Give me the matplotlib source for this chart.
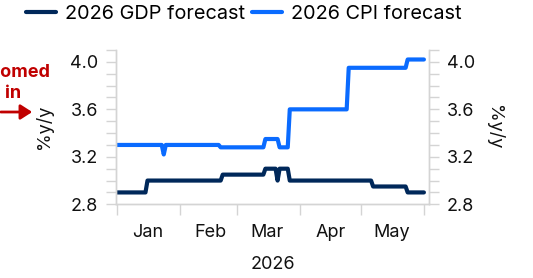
import numpy as np
import pandas as pd
import matplotlib
matplotlib.use('Agg')
import matplotlib.pyplot as plt
import matplotlib.dates as mdates

plt.rcParams['font.family'] = ['Inter', 'DejaVu Sans']

# step changes in the forecasts (date the new value starts)
gdp_dates = ['2026-01-01', '2026-01-16', '2026-02-22', '2026-03-15', '2026-03-21',
             '2026-03-22', '2026-03-27', '2026-05-07', '2026-05-24']
gdp_values = [2.9, 3.0, 3.05, 3.1, 3.0, 3.1, 3.0, 2.95, 2.9]

cpi_dates = ['2026-01-01', '2026-01-24', '2026-01-25', '2026-02-21', '2026-03-15',
             '2026-03-22', '2026-03-27', '2026-04-25', '2026-05-24']
cpi_values = [3.3, 3.22, 3.3, 3.28, 3.35, 3.28, 3.6, 3.95, 4.02]

end_date = '2026-06-01'
month_labels = ['Jan', 'Feb', 'Mar', 'Apr', 'May']

navy = '#00285A'
blue = '#0A6BFF'
red = '#C00000'
grey = '#D4D4D4'
txt = '#111111'

days = pd.date_range(gdp_dates[0], end_date, freq='D')
gdp = pd.Series(gdp_values, index=pd.to_datetime(gdp_dates)).reindex(days).ffill()
cpi = pd.Series(cpi_values, index=pd.to_datetime(cpi_dates)).reindex(days).ffill()

fig = plt.figure(figsize=(5.33, 2.78), dpi=100)
ax = fig.add_axes([116/533, 1-204.3/278, (429-116)/533, (204.3-50)/278])

l1, = ax.plot(days, gdp.values, color=navy, lw=3, solid_joinstyle='round', solid_capstyle='round',
              label='2026 GDP forecast')
l2, = ax.plot(days, cpi.values, color=blue, lw=3, solid_joinstyle='round', solid_capstyle='round',
              label='2026 CPI forecast')

ax.set_ylim(2.8, 4.1)
ax.set_xlim(pd.Timestamp('2025-12-31 12:00'), pd.Timestamp('2026-06-03 12:00'))

ax2 = ax.twinx()
ax2.set_ylim(ax.get_ylim())

for a in (ax, ax2):
    a.set_yticks(np.arange(2.8, 4.01, 0.4))
    a.set_yticks(np.arange(2.8, 4.11, 0.1), minor=True)
    a.yaxis.set_major_formatter(matplotlib.ticker.FormatStrFormatter('%.1f'))
    a.tick_params(axis='y', which='both', length=7, width=1, color=grey, labelsize=13,
                  labelcolor=txt, pad=6)
    a.spines['top'].set_visible(False)
    for s in ('left', 'right', 'bottom'):
        a.spines[s].set_color(grey)
        a.spines[s].set_linewidth(1)

# month ticks at month starts, labels mid-month
ax.xaxis.set_major_locator(mdates.MonthLocator())
ax.xaxis.set_major_formatter(matplotlib.ticker.NullFormatter())
mids = [pd.Timestamp(2026, m, 16) for m in range(1, 6)]
ax.set_xticks(mids, minor=True)
ax.set_xticklabels(month_labels, minor=True)
ax.tick_params(axis='x', which='major', length=8, color=grey, width=1)
ax.tick_params(axis='x', which='minor', length=0, labelsize=13, labelcolor=txt, pad=14)
ax.set_xlabel('2026', fontsize=13, color=txt, labelpad=11)

ax.set_ylabel('%y/y', fontsize=13, color=txt, labelpad=12)
ax2.set_ylabel('%y/y', fontsize=13, color=txt, rotation=270, labelpad=20)

fig.legend(handles=[l1, l2], loc='center left', bbox_to_anchor=(26/533, 1-14/278),
           ncol=2, frameon=False, fontsize=14.3, handlelength=1.5, handletextpad=0.45,
           columnspacing=0.35, borderpad=0, borderaxespad=0)

# partially cropped callout on the left edge
fig.text(13/533, 1-83/278, 'Zoomed\nin', color=red, fontsize=13, fontweight='bold',
         ha='center', va='center', linespacing=1.3)
fig.add_artist(matplotlib.patches.FancyArrowPatch((-2/533, 1-112/278), (35/533, 1-112/278),
               transform=fig.transFigure, arrowstyle='-|>,head_length=7,head_width=4.5',
               color=red, lw=2))

fig.savefig('out.png', dpi=100)
